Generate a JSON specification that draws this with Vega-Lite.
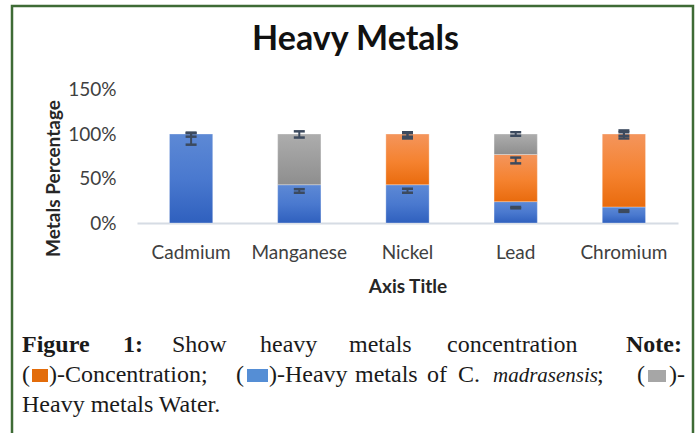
{
  "$schema": "https://vega.github.io/schema/vega-lite/v6.json",
  "width": 681,
  "height": 440,
  "autosize": {"type": "none"},
  "padding": {"left": 12, "top": 6, "right": 4, "bottom": 0},
  "background": "white",
  "title": {"text": "Heavy Metals", "font": "Lato", "fontSize": 34, "fontWeight": "bold", "color": "#111111", "anchor": "middle", "frame": "group", "offset": -78, "baseline": "alphabetic", "dx": 3},
  "config": {
    "view": {"stroke": "#3e6b35", "strokeWidth": 2.5},
    "font": "Lato",
    "axisX": {"offset": -223, "domainColor": "#d6dce4", "domainWidth": 2, "ticks": false, "grid": false, "labelAngle": 0, "labelFont": "Lato", "labelFontSize": 19, "labelColor": "#404040", "labelPadding": 20, "titleFont": "Lato", "titleFontSize": 19, "titleFontWeight": "bold", "titleColor": "#262626", "titleBaseline": "alphabetic", "titleY": 69},
    "axisY": {"offset": -125, "domain": false, "ticks": false, "grid": false, "labelFont": "Lato", "labelFontSize": 19, "labelColor": "#404040", "labelPadding": 21, "titleFont": "Lato", "titleFontSize": 19, "titleFontWeight": "bold", "titleColor": "#262626", "titleAngle": -90, "titleBaseline": "alphabetic", "titleAlign": "center", "titleX": -78, "titleY": 172}
  },
  "datasets": {
    "bars": [
      {"metal": "Cadmium", "series": "Heavy metals of C. madrasensis", "order": 1, "value": 1.0},
      {"metal": "Manganese", "series": "Heavy metals of C. madrasensis", "order": 1, "value": 0.43},
      {"metal": "Manganese", "series": "Heavy metals Water", "order": 3, "value": 0.57},
      {"metal": "Nickel", "series": "Heavy metals of C. madrasensis", "order": 1, "value": 0.43},
      {"metal": "Nickel", "series": "Concentration", "order": 2, "value": 0.57},
      {"metal": "Lead", "series": "Heavy metals of C. madrasensis", "order": 1, "value": 0.24},
      {"metal": "Lead", "series": "Concentration", "order": 2, "value": 0.53},
      {"metal": "Lead", "series": "Heavy metals Water", "order": 3, "value": 0.23},
      {"metal": "Chromium", "series": "Heavy metals of C. madrasensis", "order": 1, "value": 0.18},
      {"metal": "Chromium", "series": "Concentration", "order": 2, "value": 0.82}
    ],
    "errors": [
      {"metal": "Cadmium", "low": 0.88, "high": 1.015},
      {"metal": "Cadmium", "low": 0.97, "high": 1.01},
      {"metal": "Manganese", "low": 0.96, "high": 1.03},
      {"metal": "Manganese", "low": 0.34, "high": 0.38},
      {"metal": "Nickel", "low": 0.95, "high": 1.02},
      {"metal": "Nickel", "low": 0.97, "high": 1.01},
      {"metal": "Nickel", "low": 0.34, "high": 0.385},
      {"metal": "Lead", "low": 0.98, "high": 1.02},
      {"metal": "Lead", "low": 0.67, "high": 0.735},
      {"metal": "Lead", "low": 0.165, "high": 0.18},
      {"metal": "Chromium", "low": 0.95, "high": 1.04},
      {"metal": "Chromium", "low": 0.98, "high": 1.02},
      {"metal": "Chromium", "low": 0.125, "high": 0.143}
    ],
    "captionPlain": [
      {"text": "Show", "x": 172, "y": 352},
      {"text": "heavy", "x": 260, "y": 352},
      {"text": "metals", "x": 349, "y": 352},
      {"text": "concentration", "x": 447, "y": 352},
      {"text": "(", "x": 22, "y": 382},
      {"text": ")-Concentration;", "x": 49, "y": 382},
      {"text": "(", "x": 236, "y": 382},
      {"text": ")-Heavy", "x": 269, "y": 382},
      {"text": "metals", "x": 355, "y": 382},
      {"text": "of", "x": 427, "y": 382},
      {"text": "C.", "x": 458, "y": 382},
      {"text": ";", "x": 597, "y": 382},
      {"text": "(", "x": 637, "y": 382},
      {"text": ")-", "x": 669, "y": 382},
      {"text": "Heavy metals Water.", "x": 22, "y": 412}
    ],
    "captionBold": [
      {"text": "Figure", "x": 22, "y": 352},
      {"text": "1:", "x": 123, "y": 352},
      {"text": "Note:", "x": 626, "y": 352}
    ],
    "captionItalic": [
      {"text": "madrasensis", "x": 493, "y": 382}
    ],
    "captionKeys": [
      {"series": "Concentration", "x1": 32, "x2": 48, "y1": 369, "y2": 382},
      {"series": "Heavy metals of C. madrasensis", "x1": 247, "x2": 268, "y1": 369, "y2": 382},
      {"series": "Heavy metals Water", "x1": 648, "x2": 666, "y1": 370, "y2": 382}
    ]
  },
  "layer": [
    {
      "layer": [
        {
          "data": {"name": "bars"},
          "transform": [
            {"stack": "value", "groupby": ["metal"], "sort": [{"field": "order", "order": "ascending"}], "as": ["v0", "v1"]},
            {"filter": "datum.series === 'Heavy metals of C. madrasensis'"}
          ],
          "mark": {"type": "bar", "stroke": "#ffffff", "strokeOpacity": 0.3, "strokeWidth": 1, "color": {"gradient": "linear", "x1": 0, "y1": 0, "x2": 0, "y2": 1, "stops": [{"offset": 0, "color": "#5d89d5"}, {"offset": 0.5, "color": "#4a79cf"}, {"offset": 1, "color": "#2f60be"}]}},
          "encoding": {
            "x": {"field": "metal", "type": "nominal", "scale": {"domain": ["Cadmium", "Manganese", "Nickel", "Lead", "Chromium"], "range": [125, 666], "paddingInner": 0.6, "paddingOuter": 0.3}, "axis": {"title": "Axis Title"}},
            "y": {"field": "v1", "type": "quantitative", "scale": {"domain": [0, 1.5], "range": [217, 83.5], "nice": false}, "axis": {"title": "Metals Percentage", "values": [0, 0.5, 1, 1.5], "format": ".0%"}},
            "y2": {"field": "v0"}
          }
        },
        {
          "data": {"name": "bars"},
          "transform": [
            {"stack": "value", "groupby": ["metal"], "sort": [{"field": "order", "order": "ascending"}], "as": ["v0", "v1"]},
            {"filter": "datum.series === 'Concentration'"}
          ],
          "mark": {"type": "bar", "stroke": "#ffffff", "strokeOpacity": 0.3, "strokeWidth": 1, "color": {"gradient": "linear", "x1": 0, "y1": 0, "x2": 0, "y2": 1, "stops": [{"offset": 0, "color": "#f4955c"}, {"offset": 0.55, "color": "#f5822f"}, {"offset": 1, "color": "#e96b0d"}]}},
          "encoding": {
            "x": {"field": "metal", "type": "nominal", "scale": {"domain": ["Cadmium", "Manganese", "Nickel", "Lead", "Chromium"], "range": [125, 666], "paddingInner": 0.6, "paddingOuter": 0.3}, "axis": {"title": "Axis Title"}},
            "y": {"field": "v1", "type": "quantitative", "scale": {"domain": [0, 1.5], "range": [217, 83.5], "nice": false}, "axis": {"title": "Metals Percentage", "values": [0, 0.5, 1, 1.5], "format": ".0%"}},
            "y2": {"field": "v0"}
          }
        },
        {
          "data": {"name": "bars"},
          "transform": [
            {"stack": "value", "groupby": ["metal"], "sort": [{"field": "order", "order": "ascending"}], "as": ["v0", "v1"]},
            {"filter": "datum.series === 'Heavy metals Water'"}
          ],
          "mark": {"type": "bar", "stroke": "#ffffff", "strokeOpacity": 0.3, "strokeWidth": 1, "color": {"gradient": "linear", "x1": 0, "y1": 0, "x2": 0, "y2": 1, "stops": [{"offset": 0, "color": "#adadad"}, {"offset": 1, "color": "#8e8e8e"}]}},
          "encoding": {
            "x": {"field": "metal", "type": "nominal", "scale": {"domain": ["Cadmium", "Manganese", "Nickel", "Lead", "Chromium"], "range": [125, 666], "paddingInner": 0.6, "paddingOuter": 0.3}, "axis": {"title": "Axis Title"}},
            "y": {"field": "v1", "type": "quantitative", "scale": {"domain": [0, 1.5], "range": [217, 83.5], "nice": false}, "axis": {"title": "Metals Percentage", "values": [0, 0.5, 1, 1.5], "format": ".0%"}},
            "y2": {"field": "v0"}
          }
        },
        {
          "data": {"name": "errors"},
          "mark": {"type": "rule", "color": "#3c4a5e", "strokeWidth": 2},
          "encoding": {
            "x": {"field": "metal", "type": "nominal", "scale": {"domain": ["Cadmium", "Manganese", "Nickel", "Lead", "Chromium"], "range": [125, 666], "paddingInner": 0.6, "paddingOuter": 0.3}, "axis": {"title": "Axis Title"}},
            "y": {"field": "low", "type": "quantitative", "scale": {"domain": [0, 1.5], "range": [217, 83.5], "nice": false}, "axis": {"title": "Metals Percentage", "values": [0, 0.5, 1, 1.5], "format": ".0%"}},
            "y2": {"field": "high"}
          }
        },
        {
          "data": {"name": "errors"},
          "mark": {"type": "tick", "color": "#3c4a5e", "size": 11, "thickness": 2.5, "opacity": 1},
          "encoding": {
            "x": {"field": "metal", "type": "nominal", "scale": {"domain": ["Cadmium", "Manganese", "Nickel", "Lead", "Chromium"], "range": [125, 666], "paddingInner": 0.6, "paddingOuter": 0.3}, "axis": {"title": "Axis Title"}},
            "y": {"field": "low", "type": "quantitative", "scale": {"domain": [0, 1.5], "range": [217, 83.5], "nice": false}, "axis": {"title": "Metals Percentage", "values": [0, 0.5, 1, 1.5], "format": ".0%"}}
          }
        },
        {
          "data": {"name": "errors"},
          "mark": {"type": "tick", "color": "#3c4a5e", "size": 11, "thickness": 2.5, "opacity": 1},
          "encoding": {
            "x": {"field": "metal", "type": "nominal", "scale": {"domain": ["Cadmium", "Manganese", "Nickel", "Lead", "Chromium"], "range": [125, 666], "paddingInner": 0.6, "paddingOuter": 0.3}, "axis": {"title": "Axis Title"}},
            "y": {"field": "high", "type": "quantitative", "scale": {"domain": [0, 1.5], "range": [217, 83.5], "nice": false}, "axis": {"title": "Metals Percentage", "values": [0, 0.5, 1, 1.5], "format": ".0%"}}
          }
        }
      ]
    },
    {
      "layer": [
        {
          "data": {"name": "captionKeys"},
          "mark": {"type": "rect"},
          "encoding": {
            "x": {"field": "x1", "type": "quantitative", "scale": {"domain": [12, 693], "range": [0, 681], "nice": false, "zero": false}, "axis": null},
            "x2": {"field": "x2"},
            "y": {"field": "y1", "type": "quantitative", "scale": {"domain": [6, 446], "range": [0, 440], "nice": false, "zero": false}, "axis": null},
            "y2": {"field": "y2"},
            "color": {"field": "series", "type": "nominal", "scale": {"domain": ["Concentration", "Heavy metals of C. madrasensis", "Heavy metals Water"], "range": ["#e36c0a", "#558ed5", "#a6a6a6"]}, "legend": null}
          }
        },
        {
          "data": {"name": "captionPlain"},
          "mark": {"type": "text", "font": "Liberation Serif", "fontSize": 24, "color": "#1a1a1a", "align": "left", "baseline": "alphabetic"},
          "encoding": {
            "x": {"field": "x", "type": "quantitative", "scale": {"domain": [12, 693], "range": [0, 681], "nice": false, "zero": false}, "axis": null},
            "y": {"field": "y", "type": "quantitative", "scale": {"domain": [6, 446], "range": [0, 440], "nice": false, "zero": false}, "axis": null},
            "text": {"field": "text"}
          }
        },
        {
          "data": {"name": "captionBold"},
          "mark": {"type": "text", "font": "Liberation Serif", "fontSize": 24, "fontWeight": "bold", "color": "#1a1a1a", "align": "left", "baseline": "alphabetic"},
          "encoding": {
            "x": {"field": "x", "type": "quantitative", "scale": {"domain": [12, 693], "range": [0, 681], "nice": false, "zero": false}, "axis": null},
            "y": {"field": "y", "type": "quantitative", "scale": {"domain": [6, 446], "range": [0, 440], "nice": false, "zero": false}, "axis": null},
            "text": {"field": "text"}
          }
        },
        {
          "data": {"name": "captionItalic"},
          "mark": {"type": "text", "font": "Liberation Serif", "fontSize": 21, "fontStyle": "italic", "color": "#1a1a1a", "align": "left", "baseline": "alphabetic"},
          "encoding": {
            "x": {"field": "x", "type": "quantitative", "scale": {"domain": [12, 693], "range": [0, 681], "nice": false, "zero": false}, "axis": null},
            "y": {"field": "y", "type": "quantitative", "scale": {"domain": [6, 446], "range": [0, 440], "nice": false, "zero": false}, "axis": null},
            "text": {"field": "text"}
          }
        }
      ]
    }
  ],
  "resolve": {"scale": {"x": "independent", "y": "independent"}}
}
